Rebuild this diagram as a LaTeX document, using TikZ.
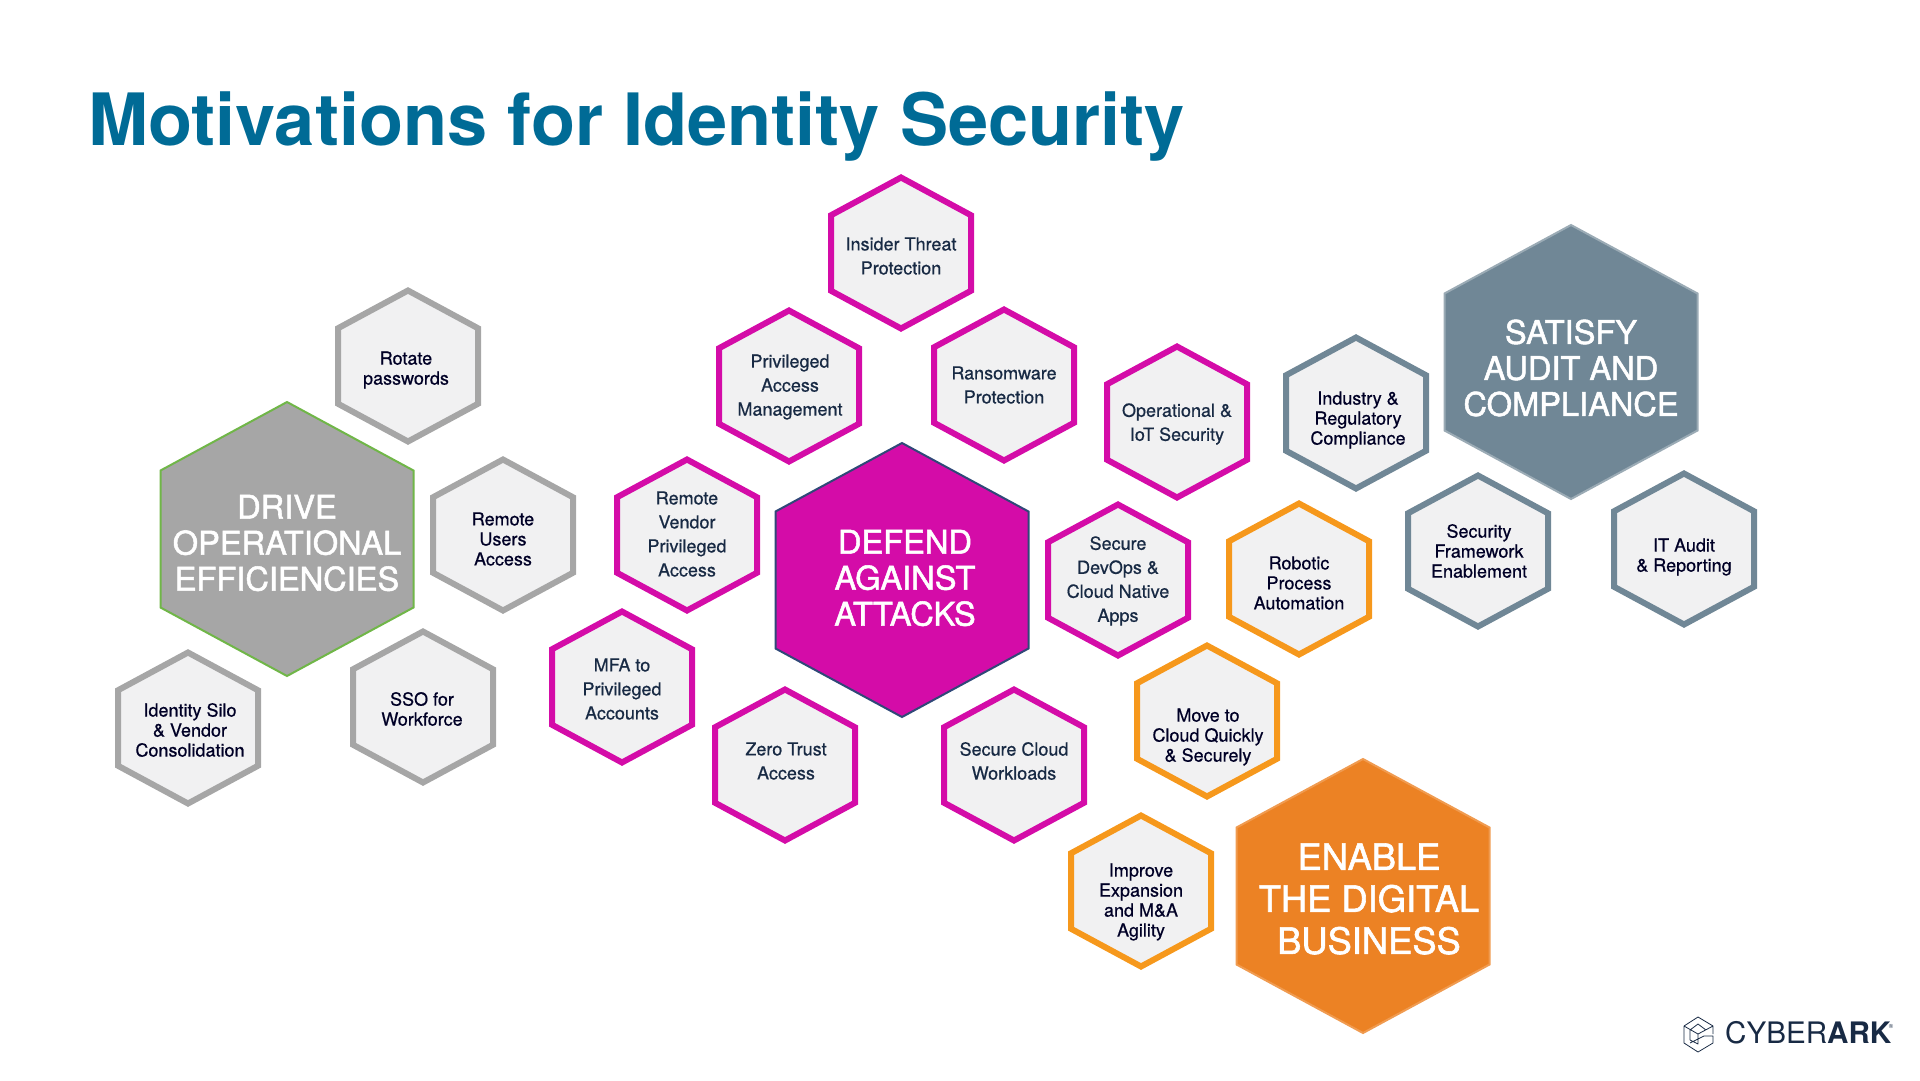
\documentclass[tikz,border=0pt]{standalone}
\usepackage{fontspec}
\setmainfont{TeX Gyre Heros}
\newfontfamily\bigfont[FakeBold=1.6]{TeX Gyre Heros}
\newfontfamily\cellfont[FakeBold=0.6]{TeX Gyre Heros}
\usetikzlibrary{positioning}
\definecolor{titleblue}{RGB}{0,107,150}
\definecolor{inkblue}{RGB}{24,42,68}
\definecolor{magline}{RGB}{212,12,168}
\definecolor{grayline}{RGB}{166,166,166}
\definecolor{slateline}{RGB}{112,135,150}
\definecolor{orgline}{RGB}{246,152,28}
\definecolor{orgfill}{RGB}{236,130,36}
\definecolor{cellfill}{RGB}{241,241,242}
\definecolor{greenedge}{RGB}{112,182,72}
\definecolor{navyedge}{RGB}{48,72,120}
\tikzset{
  hexsmall/.style={xscale=70,yscale=75.5,line width=6pt,fill=cellfill,miter limit=10},
  hexbig/.style={xscale=126.5,yscale=137,line width=2pt,miter limit=10},
  celltext/.style={align=center,text=inkblue,inner sep=0pt,font=\cellfont\fontsize{18}{24}\selectfont},
  tighttext/.style={align=center,text=black!85!blue,inner sep=0pt,font=\cellfont\fontsize{18}{20}\selectfont},
  bigtext/.style={align=center,text=white,inner sep=0pt,font=\bigfont\fontsize{32.6}{36}\selectfont},
  hugetext/.style={align=center,text=white,inner sep=0pt,font=\bigfont\fontsize{36.3}{42}\selectfont}
}
\newcommand{\hexcell}[5]{%
  \draw[shift={(#3)},#1] (0,1) -- (1,.5) -- (1,-.5) -- (0,-1) -- (-1,-.5) -- (-1,.5) -- cycle;
  \node[#4] (#2) at (#3) {#5};
}
\begin{document}
\begin{tikzpicture}[x=1pt,y=-1pt]
  \useasboundingbox (0,0) rectangle (1920,1080);
  \node[anchor=base west,inner sep=0pt,text=titleblue,font=\fontsize{72.2}{80}\selectfont\bfseries] (title) at (88,145) {Motivations for Identity Security};
  % big cells
  \hexcell{hexbig,fill=grayline,draw=greenedge}{drive}{287,539}{bigtext,shift={(0,4)}}{DRIVE\\OPERATIONAL\\EFFICIENCIES}
  \hexcell{hexbig,fill=magline,draw=navyedge}{defend}{902,580}{bigtext,shift={(3,-2)}}{DEFEND\\AGAINST\\ATTACKS}
  \hexcell{hexbig,fill=slateline,draw=slateline!70!white}{satisfy}{1571,362}{bigtext,shift={(0,6)}}{SATISFY\\AUDIT AND\\COMPLIANCE}
  \hexcell{hexbig,fill=orgfill,draw=orgfill!80!white}{enable}{1363,896}{hugetext,shift={(6,3)}}{ENABLE\\THE DIGITAL\\BUSINESS}
  % defend
  \hexcell{hexsmall,draw=magline}{insider}{901,253}{celltext,shift={(0,3)}}{Insider Threat\\Protection}
  \hexcell{hexsmall,draw=magline}{pam}{789,386}{celltext,shift={(1,1)}}{Privileged\\Access\\Management}
  \hexcell{hexsmall,draw=magline}{ransom}{1004,385}{celltext}{Ransomware\\Protection}
  \hexcell{hexsmall,draw=magline}{vendor}{687,535}{celltext,shift={(0,-1)}}{Remote\\Vendor\\Privileged\\Access}
  \hexcell{hexsmall,draw=magline}{mfa}{622,687}{celltext,shift={(0,2)}}{MFA to\\Privileged\\Accounts}
  \hexcell{hexsmall,draw=magline}{zero}{785,765}{celltext,shift={(1,-4)}}{Zero Trust\\Access}
  \hexcell{hexsmall,draw=magline}{cloud}{1014,765}{celltext,shift={(0,-4)}}{Secure Cloud\\Workloads}
  \hexcell{hexsmall,draw=magline}{iot}{1177,422}{celltext,shift={(0,2)}}{Operational \&\\IoT Security}
  \hexcell{hexsmall,draw=magline}{devops}{1118,580}{celltext,shift={(0,1)}}{Secure\\DevOps \&\\Cloud Native\\Apps}
  % drive
  \hexcell{hexsmall,draw=grayline}{rotate}{408,366}{tighttext,shift={(-2,4)}}{Rotate\\passwords}
  \hexcell{hexsmall,draw=grayline}{remote}{503,535}{tighttext,shift={(0,4)}}{Remote\\Users\\Access}
  \hexcell{hexsmall,draw=grayline}{sso}{423,707}{tighttext,shift={(-1,2)}}{SSO for\\Workforce}
  \hexcell{hexsmall,draw=grayline}{silo}{188,728}{tighttext,shift={(2,2)}}{Identity Silo\\\& Vendor\\Consolidation}
  % satisfy
  \hexcell{hexsmall,draw=slateline}{industry}{1356,413}{tighttext,shift={(2,7)}}{Industry \&\\Regulatory\\Compliance}
  \hexcell{hexsmall,draw=slateline}{framework}{1478,551}{tighttext,shift={(1,0)}}{Security\\Framework\\Enablement}
  \hexcell{hexsmall,draw=slateline}{audit}{1684,549}{tighttext,shift={(0,8)}}{IT Audit\\\& Reporting}
  % enable
  \hexcell{hexsmall,draw=orgline}{robotic}{1299,579}{tighttext,shift={(0,4)}}{Robotic\\Process\\Automation}
  \hexcell{hexsmall,draw=orgline}{movecloud}{1207,721}{tighttext,shift={(1,16)}}{Move to\\Cloud Quickly\\\& Securely}
  \hexcell{hexsmall,draw=orgline}{improve}{1141,891}{tighttext,shift={(0,11)}}{Improve\\Expansion\\and M\&A\\Agility}
  % logo
  \draw[inkblue,line width=.8pt,line join=round] (1713,1034) -- (1713,1026) -- (1698,1017) -- (1684,1026) -- (1684,1043) -- (1698,1052) -- (1713,1043) -- (1713,1036) -- (1704,1036) -- (1690,1043) (1684,1026) -- (1698,1034) -- (1713,1026) (1698,1034) -- (1698,1044) -- (1690,1040) -- (1690,1030) (1698,1024) -- (1690,1030) (1698,1024) -- (1706,1030);
  \node[anchor=base west,inner sep=0pt,text=inkblue,font=\fontsize{29.6}{30}\selectfont] (brand) at (1725,1043) {CYBER\textbf{ARK}};
  \node[anchor=center,inner sep=0pt,text=inkblue,font=\fontsize{6}{6}\selectfont] (mark) at (1891,1026) {®};
\end{tikzpicture}
\end{document}
